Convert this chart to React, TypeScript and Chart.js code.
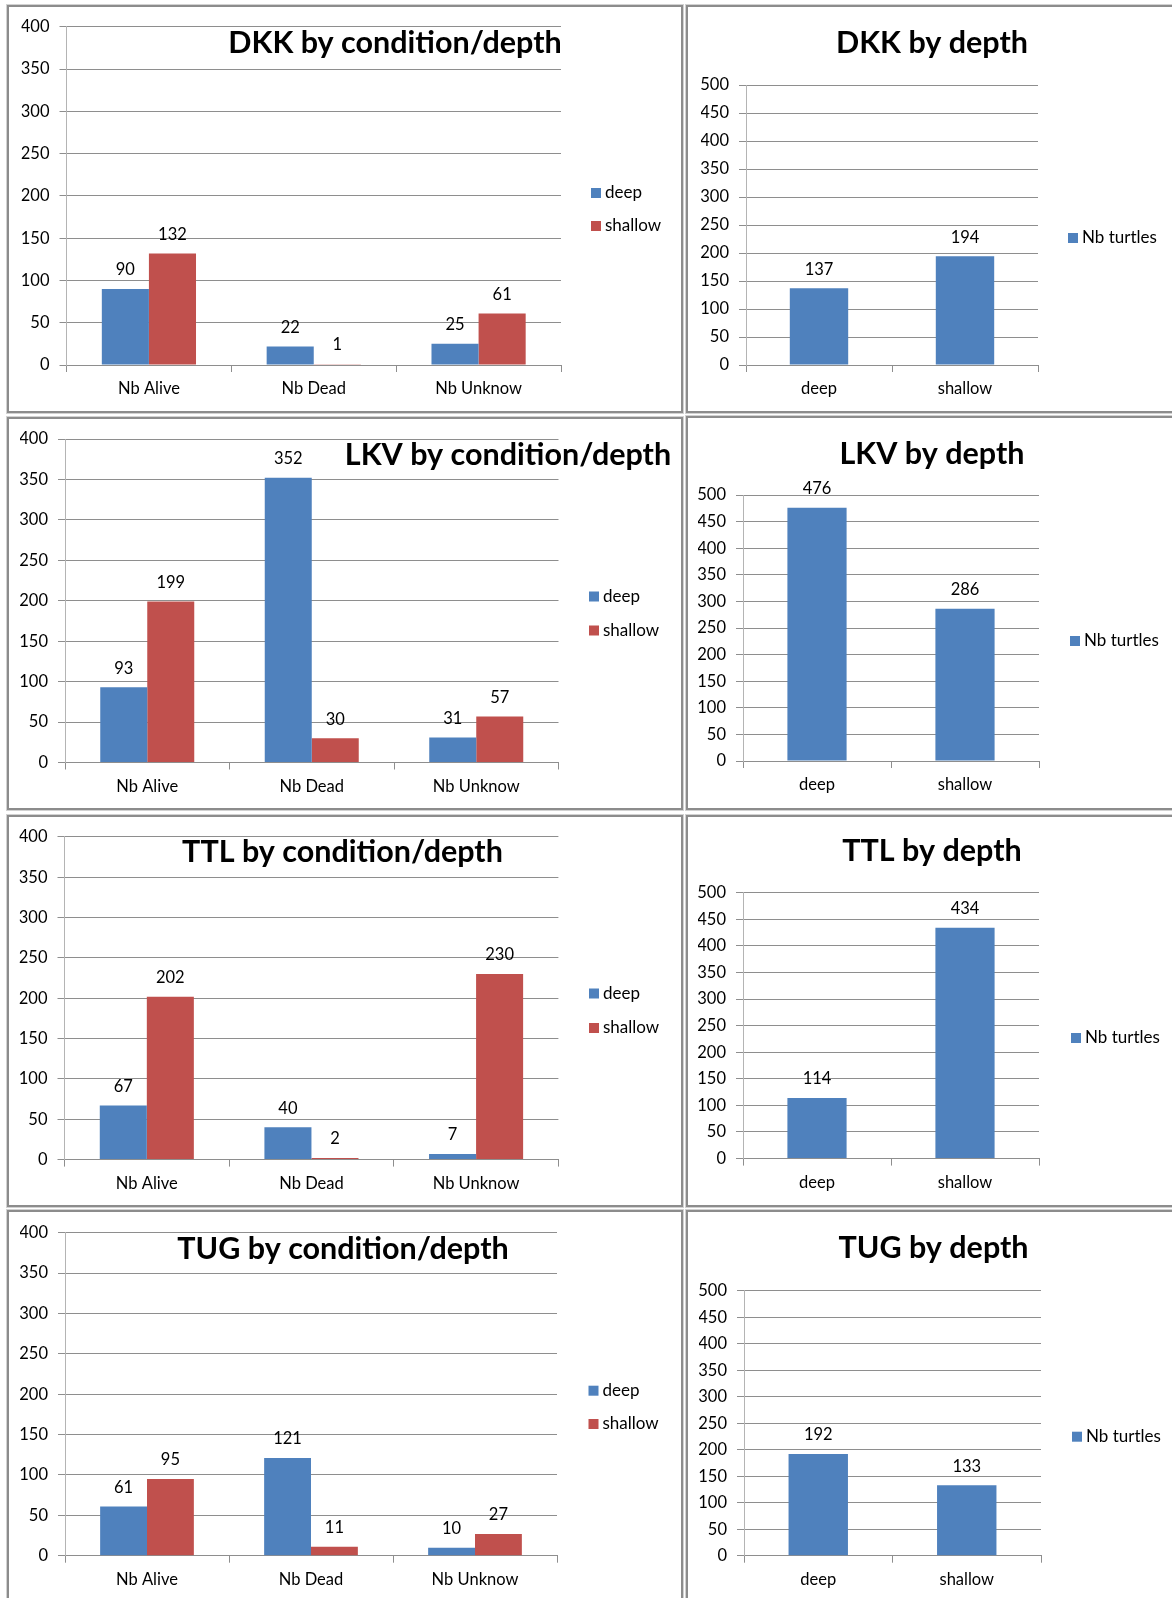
import React, { useEffect, useRef } from "react";
import { Chart, registerables } from "chart.js";

Chart.register(...registerables);

// ---------- data ----------
const conditionCategories = ["Nb Alive", "Nb Dead", "Nb Unknow"];
const depthCategories = ["deep", "shallow"];
const conditionSeriesNames = ["deep", "shallow"];
const depthSeriesName = "Nb turtles";

const dkkDeep = [90, 22, 25];
const dkkShallow = [132, 1, 61];
const dkkByDepth = [137, 194];

const lkvDeep = [93, 352, 31];
const lkvShallow = [199, 30, 57];
const lkvByDepth = [476, 286];

const ttlDeep = [67, 40, 7];
const ttlShallow = [202, 2, 230];
const ttlByDepth = [114, 434];

const tugDeep = [61, 121, 10];
const tugShallow = [95, 11, 27];
const tugByDepth = [192, 133];

const conditionAxisTicks = [0, 50, 100, 150, 200, 250, 300, 350, 400];
const depthAxisTicks = [0, 50, 100, 150, 200, 250, 300, 350, 400, 450, 500];

// ---------- style ----------
const BLUE = "#4F81BD";
const RED = "#C0504D";
const GRID = "#8e8e8e";
const FONT = "Lato, 'Open Sans', sans-serif";
const TICK_SIZE = 16.5;
const LEGEND_SIZE = 17;
const TITLE_SIZE = 30.5;
const YW = 45;
const XH = 40;
const PAGE_W = 1172;
const PAGE_H = 1598;

type Panel = {
  key: string;
  box: number[]; // outer border box: left, top, right, bottom (page px)
  area: number[]; // chart area: left, top, right, bottom (page px)
  title: string;
  titleAt: number[]; // center x, baseline y
  legendAt: number[]; // box x, first center y, spacing
  kind: "cond" | "depth";
  series: number[][];
};

const panels: Panel[] = [
  { key: "dkkCond", box: [7, 5, 683, 413], area: [66.5, 26.7, 561, 365], title: "DKK by condition/depth", titleAt: [395, 53], legendAt: [591, 193, 33], kind: "cond", series: [dkkDeep, dkkShallow] },
  { key: "dkkDepth", box: [686, 5, 1190, 413], area: [746, 85, 1038, 365], title: "DKK by depth", titleAt: [932, 53], legendAt: [1068, 238, 0], kind: "depth", series: [dkkByDepth] },
  { key: "lkvCond", box: [7, 417, 683, 810], area: [65, 439, 558.5, 762.5], title: "LKV by condition/depth", titleAt: [508, 465], legendAt: [589, 596.5, 34], kind: "cond", series: [lkvDeep, lkvShallow] },
  { key: "lkvDepth", box: [686, 416, 1190, 810], area: [743, 495, 1039, 761], title: "LKV by depth", titleAt: [932, 464], legendAt: [1070, 641, 0], kind: "depth", series: [lkvByDepth] },
  { key: "ttlCond", box: [7, 815, 683, 1207], area: [64.5, 835.6, 558.4, 1159.6], title: "TTL by condition/depth", titleAt: [342.5, 861.5], legendAt: [589, 993.5, 34.5], kind: "cond", series: [ttlDeep, ttlShallow] },
  { key: "ttlDepth", box: [686, 815, 1190, 1207], area: [743, 892.6, 1039, 1158.6], title: "TTL by depth", titleAt: [932, 860.5], legendAt: [1071, 1038, 0], kind: "depth", series: [ttlByDepth] },
  { key: "tugCond", box: [7, 1210, 683, 1640], area: [65, 1232.7, 557, 1555.7], title: "TUG by condition/depth", titleAt: [343, 1259], legendAt: [588.5, 1390.7, 33.3], kind: "cond", series: [tugDeep, tugShallow] },
  { key: "tugDepth", box: [686, 1210, 1190, 1640], area: [744, 1290.7, 1041, 1555.7], title: "TUG by depth", titleAt: [933.5, 1258], legendAt: [1072, 1436.7, 0], kind: "depth", series: [tugByDepth] },
];

function ChartPanel({ p }: { p: Panel }) {
  const ref = useRef<HTMLCanvasElement | null>(null);
  const ox = p.box[0] + 2;
  const oy = p.box[1] + 2;
  const cw = Math.min(p.box[2] - 2, PAGE_W) - ox;
  const ch = Math.min(p.box[3] - 2, PAGE_H) - oy;

  useEffect(() => {
    if (!ref.current) return;
    const isCond = p.kind === "cond";
    const labels = isCond ? conditionCategories : depthCategories;
    const names = isCond ? conditionSeriesNames : [depthSeriesName];
    const colors = isCond ? [BLUE, RED] : [BLUE];
    const ticks = isCond ? conditionAxisTicks : depthAxisTicks;
    const catPct = isCond ? 2 / 3.5 : 1 / 2.5;

    const decor = {
      id: "decor",
      afterDatasetsDraw(chart: any) {
        const ctx = chart.ctx;
        ctx.save();
        // value labels
        ctx.font = `${TICK_SIZE}px ${FONT}`;
        ctx.fillStyle = "#000";
        ctx.textAlign = "center";
        ctx.textBaseline = "middle";
        chart.data.datasets.forEach((ds: any, i: number) => {
          const meta = chart.getDatasetMeta(i);
          meta.data.forEach((el: any, j: number) => {
            ctx.fillText(String(ds.data[j]), el.x, el.y - 19);
          });
        });
        // legend
        ctx.font = `${LEGEND_SIZE}px ${FONT}`;
        ctx.textAlign = "left";
        names.forEach((n, i) => {
          const bx = p.legendAt[0] - ox;
          const cy = p.legendAt[1] + i * p.legendAt[2] - oy;
          ctx.fillStyle = colors[i];
          ctx.fillRect(bx, cy - 5, 10, 10);
          ctx.fillStyle = "#000";
          ctx.fillText(n, bx + 14, cy);
        });
        // title
        ctx.font = `bold ${TITLE_SIZE}px ${FONT}`;
        ctx.textAlign = "center";
        ctx.textBaseline = "alphabetic";
        ctx.fillText(p.title, p.titleAt[0] - ox, p.titleAt[1] - oy);
        ctx.restore();
      },
    };

    const chart = new Chart(ref.current, {
      type: "bar",
      data: {
        labels,
        datasets: p.series.map((d, i) => ({
          label: names[i],
          data: d,
          backgroundColor: colors[i],
          borderWidth: 0,
          barPercentage: 1,
          categoryPercentage: catPct,
        })),
      },
      options: {
        responsive: false,
        animation: false,
        devicePixelRatio: 1,
        events: [],
        layout: {
          padding: {
            left: p.area[0] - ox - YW,
            top: p.area[1] - oy,
            right: ox + cw - p.area[2],
            bottom: oy + ch - p.area[3] - XH,
          },
        },
        plugins: {
          legend: { display: false },
          title: { display: false },
          tooltip: { enabled: false },
        },
        scales: {
          x: {
            offset: true,
            grid: {
              offset: true,
              drawOnChartArea: false,
              drawTicks: true,
              tickLength: 7,
              color: GRID,
            },
            border: { display: true, color: GRID },
            ticks: {
              color: "#000",
              font: { family: FONT, size: TICK_SIZE },
              padding: 7,
              maxRotation: 0,
            },
            afterFit: (s: any) => {
              s.height = XH;
            },
          },
          y: {
            min: ticks[0],
            max: ticks[ticks.length - 1],
            ticks: {
              stepSize: ticks[1] - ticks[0],
              color: "#000",
              font: { family: FONT, size: TICK_SIZE },
              padding: 10,
            },
            grid: { color: GRID, tickLength: 7, drawTicks: true },
            border: { display: true, color: "#b4b4b4" },
            afterFit: (s: any) => {
              s.width = YW;
            },
          },
        },
      },
      plugins: [decor],
    } as any);
    return () => chart.destroy();
  }, []);

  return (
    <div
      style={{
        position: "absolute",
        left: p.box[0],
        top: p.box[1],
        width: p.box[2] - p.box[0],
        height: p.box[3] - p.box[1],
        boxSizing: "border-box",
        border: "2px solid #8c8c8c",
        boxShadow: "0 0 0 1px #d2d2d2",
        background: "#fff",
      }}
    >
      <canvas
        ref={ref}
        width={cw}
        height={ch}
        style={{ position: "absolute", left: 0, top: 0, width: cw, height: ch, display: "block" }}
      />
    </div>
  );
}

export default function App() {
  return (
    <div
      style={{
        position: "absolute",
        left: 0,
        top: 0,
        width: PAGE_W,
        height: PAGE_H,
        overflow: "hidden",
        background: "#fff",
      }}
    >
      {panels.map((p) => (
        <ChartPanel key={p.key} p={p} />
      ))}
    </div>
  );
}
